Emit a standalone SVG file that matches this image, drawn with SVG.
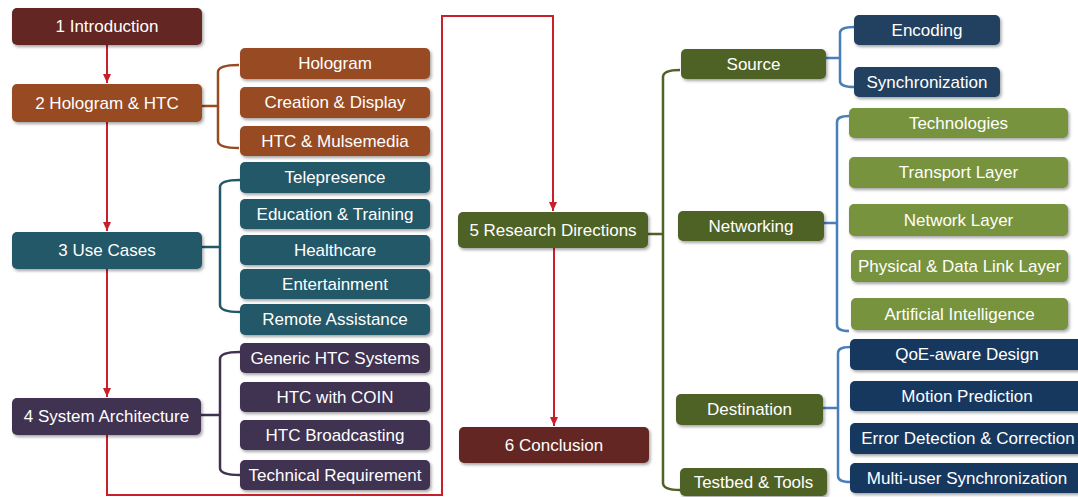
<svg xmlns="http://www.w3.org/2000/svg" width="1078" height="497" viewBox="0 0 1078 497">
<style>
.n rect{rx:5;ry:5;filter:url(#sh)}
.n text{fill:#fff;font-family:"Liberation Sans",Arial,sans-serif;font-size:17px;text-anchor:middle;dominant-baseline:central}
.maroon rect{fill:#632523}
.brown rect{fill:#984B23}
.teal rect{fill:#215968}
.purple rect{fill:#403151}
.dgreen rect{fill:#4F6228}
.lgreen rect{fill:#77933C}
.dblue rect{fill:#243F60}
.navy rect{fill:#17375E}
.red{fill:none;stroke:#C8202A;stroke-width:2}
.br{fill:none;stroke-width:2.5}
</style>
<defs>
<filter id="sh" x="-10%" y="-20%" width="120%" height="150%">
<feDropShadow dx="1.5" dy="2" stdDeviation="1.5" flood-color="#000" flood-opacity="0.35"/>
</filter>
<marker id="ah" markerUnits="userSpaceOnUse" markerWidth="10" markerHeight="10" refX="9" refY="5" orient="auto">
<path d="M0,1 L9,5 L0,9 z" fill="#C8202A"/>
</marker>
</defs>
<rect width="1078" height="497" fill="#fff"/>
<g id="connectors">
<path class="red" d="M107,45 L107,83" marker-end="url(#ah)"/>
<path class="red" d="M107,122 L107,231" marker-end="url(#ah)"/>
<path class="red" d="M107,269 L107,397" marker-end="url(#ah)"/>
<path class="red" d="M107,435 L107,495 L442,495 L442,16 L553,16 L553,211" marker-end="url(#ah)"/>
<path class="red" d="M554,248 L554,426" marker-end="url(#ah)"/>
<path class="br" stroke="#984B23" d="M239,65 Q218,65 218,72 L218,141 Q218,148 239,148 M202,106 L218,106"/>
<path class="br" stroke="#215968" d="M240,180 Q220,180 220,187 L220,305 Q220,312 240,312 M202,247 L220,247"/>
<path class="br" stroke="#403151" d="M240,352 Q220,352 220,359 L220,468 Q220,475 240,475 M201,415 L220,415"/>
<path class="br" stroke="#4F6228" d="M680,70 Q663,70 663,77 L663,483 Q663,490 680,490 M648,234 L663,234"/>
<path class="br" stroke="#4A7EBB" d="M854,27 Q840,27 840,33 L840,81 Q840,87 854,87 M826,58 L840,58"/>
<path class="br" stroke="#4A7EBB" d="M849,116 Q837,116 837,122 L837,325 Q837,331 849,331 M824,223 L837,223"/>
<path class="br" stroke="#4A7EBB" d="M850,347 Q838,347 838,353 L838,476 Q838,482 850,482 M823,408 L838,408"/>
</g>
<g id="n1" class="n maroon"><rect x="12" y="8" width="190" height="37"/><text x="107" y="26.5">1 Introduction</text></g>
<g id="n2" class="n brown"><rect x="12" y="84" width="190" height="38"/><text x="107" y="103">2 Hologram &amp; HTC</text></g>
<g id="n2a" class="n brown"><rect x="240" y="48" width="190" height="31"/><text x="335" y="63.5">Hologram</text></g>
<g id="n2b" class="n brown"><rect x="240" y="87" width="190" height="31"/><text x="335" y="102.5">Creation &amp; Display</text></g>
<g id="n2c" class="n brown"><rect x="240" y="126" width="190" height="30"/><text x="335" y="141">HTC &amp; Mulsemedia</text></g>
<g id="n3" class="n teal"><rect x="12" y="232" width="190" height="37"/><text x="107" y="250.5">3 Use Cases</text></g>
<g id="n3a" class="n teal"><rect x="240" y="162" width="190" height="31"/><text x="335" y="177.5">Telepresence</text></g>
<g id="n3b" class="n teal"><rect x="240" y="199" width="190" height="30"/><text x="335" y="214">Education &amp; Training</text></g>
<g id="n3c" class="n teal"><rect x="240" y="235" width="190" height="30"/><text x="335" y="250">Healthcare</text></g>
<g id="n3d" class="n teal"><rect x="240" y="269" width="190" height="30"/><text x="335" y="284">Entertainment</text></g>
<g id="n3e" class="n teal"><rect x="240" y="304" width="190" height="31"/><text x="335" y="319.5">Remote Assistance</text></g>
<g id="n4" class="n purple"><rect x="12" y="398" width="189" height="37"/><text x="106.5" y="416.5">4 System Architecture</text></g>
<g id="n4a" class="n purple"><rect x="240" y="343" width="190" height="30"/><text x="335" y="358">Generic HTC Systems</text></g>
<g id="n4b" class="n purple"><rect x="240" y="382" width="190" height="30"/><text x="335" y="397">HTC with COIN</text></g>
<g id="n4c" class="n purple"><rect x="240" y="420" width="190" height="30"/><text x="335" y="435">HTC Broadcasting</text></g>
<g id="n4d" class="n purple"><rect x="240" y="460" width="190" height="30"/><text x="335" y="475">Technical Requirement</text></g>
<g id="n5" class="n dgreen"><rect x="458" y="212" width="190" height="36"/><text x="553" y="230">5 Research Directions</text></g>
<g id="n6" class="n maroon"><rect x="459" y="427" width="190" height="36"/><text x="554" y="445">6 Conclusion</text></g>
<g id="n5a" class="n dgreen"><rect x="681" y="49" width="145" height="30"/><text x="753.5" y="64">Source</text></g>
<g id="n5a1" class="n dblue"><rect x="854" y="15" width="146" height="30"/><text x="927" y="30">Encoding</text></g>
<g id="n5a2" class="n dblue"><rect x="854" y="67" width="146" height="30"/><text x="927" y="82">Synchronization</text></g>
<g id="n5b" class="n dgreen"><rect x="678" y="211" width="146" height="30"/><text x="751" y="226">Networking</text></g>
<g id="n5b1" class="n lgreen"><rect x="849" y="108" width="219" height="30"/><text x="958.5" y="123">Technologies</text></g>
<g id="n5b2" class="n lgreen"><rect x="849" y="157" width="219" height="31"/><text x="958.5" y="172.5">Transport Layer</text></g>
<g id="n5b3" class="n lgreen"><rect x="849" y="204" width="219" height="32"/><text x="958.5" y="220">Network Layer</text></g>
<g id="n5b4" class="n lgreen"><rect x="851" y="250" width="217" height="32"/><text x="959.5" y="266">Physical &amp; Data Link Layer</text></g>
<g id="n5b5" class="n lgreen"><rect x="851" y="298" width="217" height="32"/><text x="959.5" y="314">Artificial Intelligence</text></g>
<g id="n5c" class="n dgreen"><rect x="676" y="394" width="147" height="31"/><text x="749.5" y="409.5">Destination</text></g>
<g id="n5c1" class="n navy"><rect x="850" y="339" width="235" height="31"/><text x="967" y="354.5">QoE-aware Design</text></g>
<g id="n5c2" class="n navy"><rect x="850" y="381" width="235" height="30"/><text x="967" y="396">Motion Prediction</text></g>
<g id="n5c3" class="n navy"><rect x="850" y="423" width="235" height="31"/><text x="968" y="438.5">Error Detection &amp; Correction</text></g>
<g id="n5c4" class="n navy"><rect x="850" y="463" width="235" height="30"/><text x="967" y="478">Multi-user Synchronization</text></g>
<g id="n5d" class="n dgreen"><rect x="680" y="468" width="147" height="28"/><text x="753.5" y="482">Testbed &amp; Tools</text></g>
</svg>
